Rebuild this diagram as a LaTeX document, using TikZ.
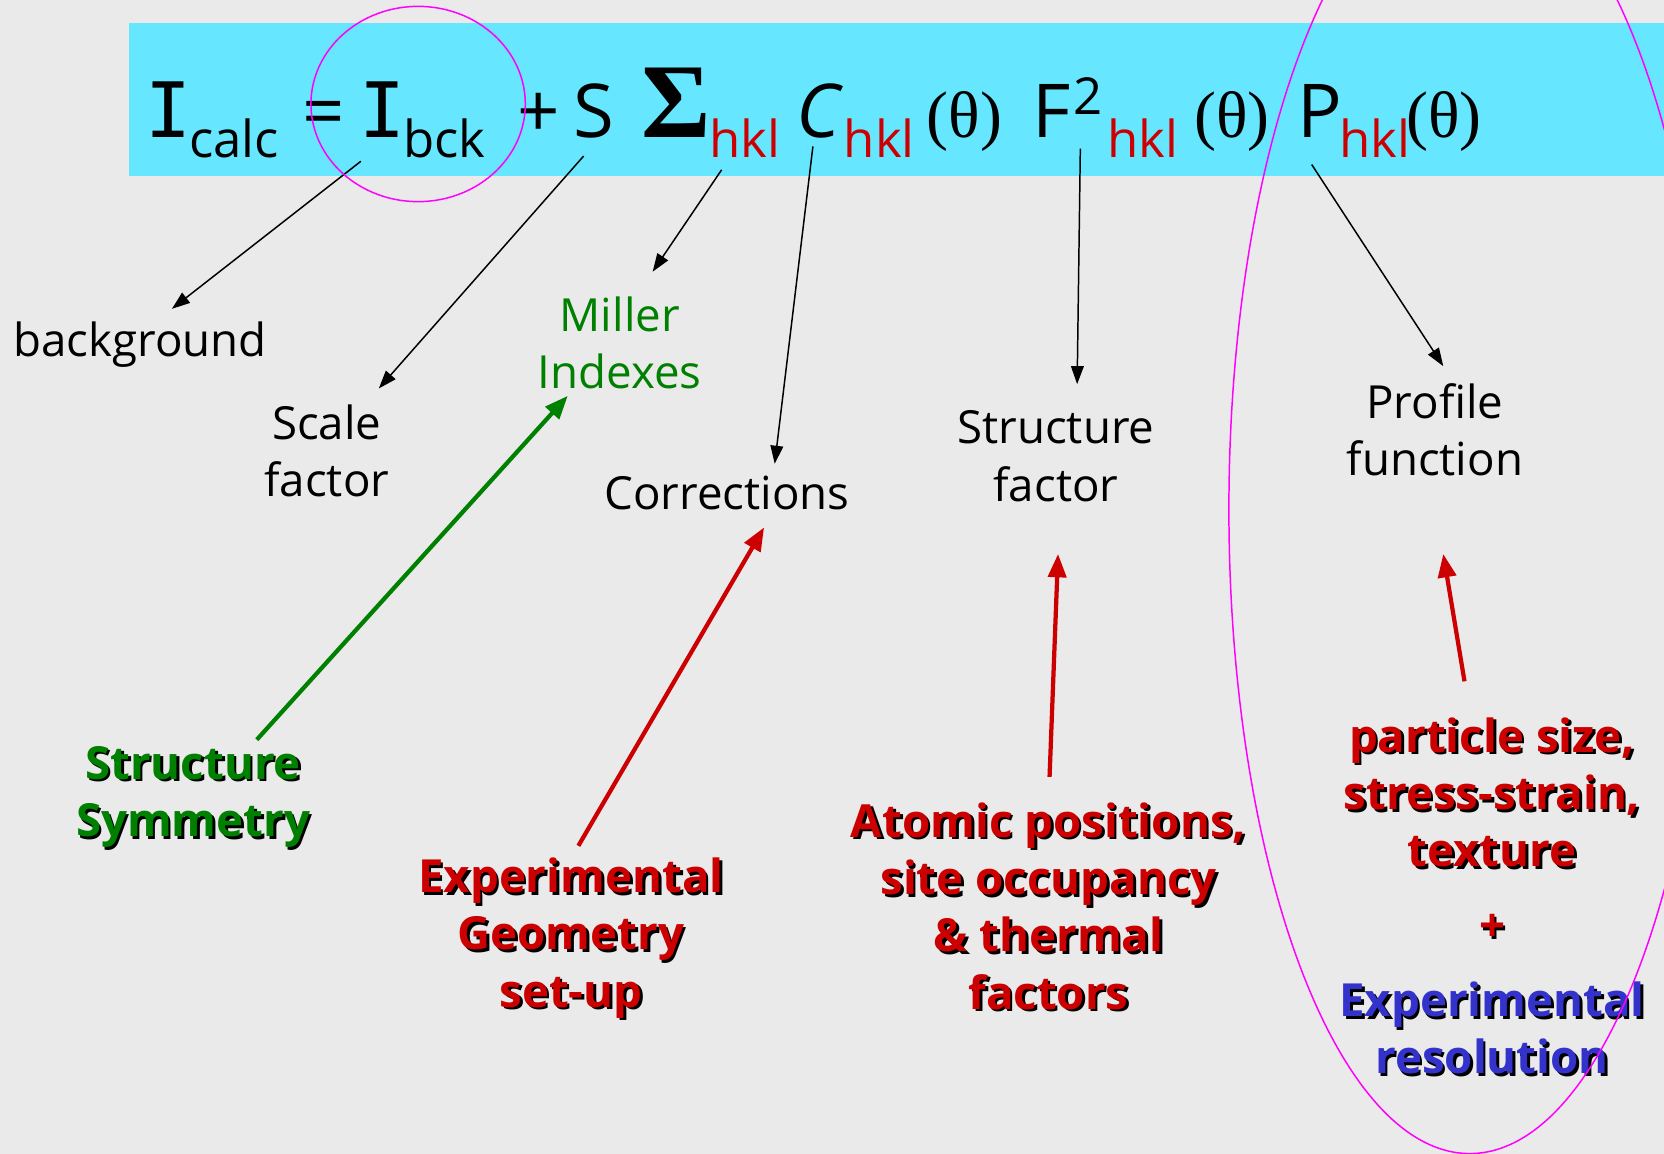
\documentclass[tikz,border=0pt]{standalone}
\usepackage{fontspec}
\setmainfont{Open Sans}
\newfontfamily\thfont{Liberation Serif}
\newfontfamily\ifont{DejaVu Sans Mono}
\usetikzlibrary{arrows.meta}
\definecolor{bg}{HTML}{EAEAEA}
\definecolor{band}{HTML}{66E6FF}
\definecolor{eqred}{HTML}{CC0000}
\definecolor{lblgreen}{HTML}{008000}
\definecolor{lblblue}{HTML}{3333CC}
\definecolor{ring}{HTML}{FF00FF}
\newcommand\shd[1]{\makebox[0pt][l]{\hspace{2.5pt}\raisebox{-2.5pt}{\color{black}#1}}#1}
\begin{document}
\begin{tikzpicture}[x=1pt,y=-1pt,
 eqbig/.style={anchor=base west,inner sep=0pt,font=\fontsize{70}{70}\selectfont},
 eqI/.style={anchor=base west,inner sep=0pt,font=\ifont\fontsize{72}{72}\selectfont},
 eqsub/.style={anchor=base west,inner sep=0pt,font=\fontsize{48}{48}\selectfont},
 eqred/.style={eqsub,text=eqred},
 eqth/.style={anchor=base west,inner sep=0pt,font=\thfont\fontsize{62}{62}\selectfont},
 lbl/.style={align=center,inner sep=0pt,font=\fontsize{43}{54}\selectfont},
 blbl/.style={align=center,inner sep=0pt,font=\bfseries\fontsize{43}{54}\selectfont},
 thinarr/.style={line width=1.4pt,-{Triangle[length=17pt,width=12pt]}},
 boldarr/.style={line width=4pt,-{Triangle[length=22pt,width=17pt]}},
 ringline/.style={draw=ring,line width=1.4pt}
]
\useasboundingbox (0,0) rectangle (1568,1087);
\clip (0,0) rectangle (1568,1087);
\fill[bg] (0,0) rectangle (1568,1087);
\fill[band] (122,22) rectangle (1568,166);

% equation
\node[eqI] (I1) at (137,130) {I};
\node[eqsub] (calc) at (178,148) {calc};
\node[eqbig] (eq) at (285,130) {=};
\node[eqI] (I2) at (339,130) {I};
\node[eqsub] (bck) at (380,148) {bck};
\node[eqbig] (plus) at (487,130) {+};
\node[eqbig] (S) at (540,130) {S};
\node[anchor=base west,inner sep=0pt,font=\thfont\bfseries\fontsize{100}{100}\selectfont] (sig) at (604,130) {Σ};
\node[eqred] (h1) at (668,148) {hkl};
\node[eqbig,font=\itshape\fontsize{70}{70}\selectfont] (C) at (750,130) {C};
\node[eqred] (h2) at (795,148) {hkl};
\node[eqth] (t1) at (873,130) {(θ)};
\node[eqbig] (F) at (973,130) {F};
\node[eqsub] (two) at (1011,108) {2};
\node[eqred] (h3) at (1043,148) {hkl};
\node[eqth] (t2) at (1125,130) {(θ)};
\node[eqbig] (P) at (1222,130) {P};
\node[eqred] (h4) at (1262,148) {hkl};
\node[eqth] (t3) at (1325,130) {(θ)};

% labels
\node[lbl] (bgl) at (132,325) {background};
\node[lbl] (scale) at (308,425) {Scale\\factor};
\node[lbl,text=lblgreen] (miller) at (584,323) {Miller\\Indexes};
\node[lbl] (corr) at (685,465) {Corrections};
\node[lbl] (sf) at (995,430) {Structure\\factor};
\node[lbl] (pf) at (1352,405) {Profile\\function};
\node[blbl,text=lblgreen] (sym) at (182,752) {\shd{Structure}\\\shd{Symmetry}};
\node[blbl,text=eqred] (geo) at (538,885) {\shd{Experimental}\\\shd{Geometry}\\\shd{set-up}};
\node[blbl,text=eqred] (atom) at (988,855) {\shd{Atomic positions,}\\\shd{site occupancy}\\\shd{\& thermal}\\\shd{factors}};
\node[blbl,text=eqred] (part) at (1406,748) {\shd{particle size,}\\\shd{stress-strain,}\\\shd{texture}};
\node[blbl,text=eqred] (pl) at (1406,876) {\shd{+}};
\node[blbl,text=lblblue] (res) at (1406,970) {\shd{Experimental}\\\shd{resolution}};

% connector ends
\coordinate (a1s) at (340,152); \coordinate (a1e) at (162,291);
\coordinate (a2s) at (550,147); \coordinate (a2e) at (357,366);
\coordinate (a3s) at (680,160); \coordinate (a3e) at (615,256);
\coordinate (a4s) at (766,138); \coordinate (a4e) at (730,437);
\coordinate (a5s) at (1018,140); \coordinate (a5e) at (1015,362);
\coordinate (a6s) at (1236,155); \coordinate (a6e) at (1360,345);
\coordinate (g1s) at (242,697); \coordinate (g1e) at (535,373);
\coordinate (r1s) at (545,797); \coordinate (r1e) at (720,497);
\coordinate (r2s) at (989,732); \coordinate (r2e) at (997,522);
\coordinate (r3s) at (1380,642); \coordinate (r3e) at (1360,522);

\draw[thinarr] (a1s) -- (a1e);
\draw[thinarr] (a2s) -- (a2e);
\draw[thinarr] (a3s) -- (a3e);
\draw[thinarr] (a4s) -- (a4e);
\draw[thinarr] (a5s) -- (a5e);
\draw[thinarr] (a6s) -- (a6e);
\draw[boldarr,draw=lblgreen,fill=lblgreen] (g1s) -- (g1e);
\draw[boldarr,draw=eqred,fill=eqred] (r1s) -- (r1e);
\draw[boldarr,draw=eqred,fill=eqred] (r2s) -- (r2e);
\draw[boldarr,draw=eqred,fill=eqred] (r3s) -- (r3e);

% rings
\path[ringline] (394,98) ellipse [x radius=101, y radius=92];
\path[ringline] (1385,480) ellipse [x radius=227, y radius=607];
\end{tikzpicture}
\end{document}
